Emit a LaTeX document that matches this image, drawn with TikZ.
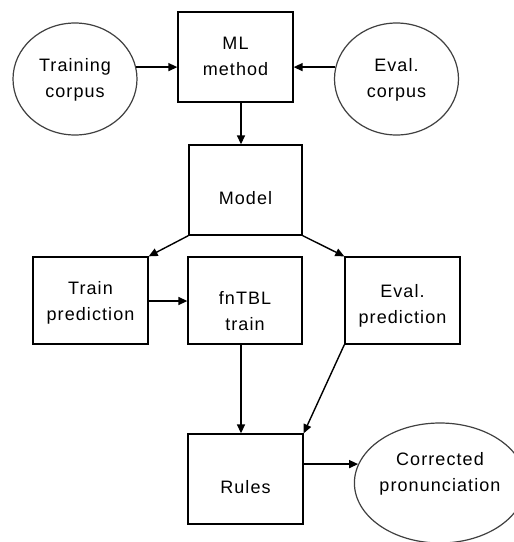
\documentclass[tikz,border=0pt]{standalone}
\usepackage{fontspec}
\setmainfont[LetterSpace=6]{Liberation Sans}
\usetikzlibrary{arrows.meta,shapes.geometric}

% caption moved down (negative) or up (positive) by #1, keeping its
% natural extent so that the node still centres the unshifted text
\newcommand\boxtext[2]{\raisebox{#1}[\height][\depth]{\begin{tabular}{@{}c@{}}#2\end{tabular}}}

\begin{document}
\begin{tikzpicture}[x=1pt,y=-1pt,
  every node/.style={font=\fontsize{18}{26}\selectfont, inner sep=0pt},
  procbox/.style={draw=black, line width=1.3pt, rectangle,
                  minimum width=115pt, minimum height=88pt},
  dataoval/.style={draw=black!75, line width=1.2pt, ellipse},
  flow/.style={draw=black, line width=1.4pt,
               -{Triangle[length=9pt,width=8pt]}}
]
\fill[white] (0,0) rectangle (514,542);
\useasboundingbox (0,0) rectangle (514,542);

% data sources and result
\node[dataoval, minimum width=124pt, minimum height=112pt] (tc) at (75,79)
  {\boxtext{0pt}{Training\\corpus}};
\node[dataoval, minimum width=124pt, minimum height=112pt] (ec) at (396.5,79)
  {\boxtext{0pt}{Eval.\\corpus}};
\node[dataoval, minimum width=150pt, minimum height=120pt] (cp) at (440,483)
  {\boxtext{10pt}{Corrected\\pronunciation}};

% processing steps
\node[procbox, minimum height=90pt] (ml) at (235.5,57)
  {\boxtext{0pt}{ML\\method}};
\node[procbox, minimum width=113pt, minimum height=90pt] (model) at (245.5,190)
  {\boxtext{-9pt}{Model}};
\node[procbox, minimum height=87pt] (tp) at (90.5,300.5)
  {\boxtext{-2pt}{Train\\prediction}};
\node[procbox, minimum width=114pt, minimum height=87pt] (fn) at (245,300.5)
  {\boxtext{-12pt}{fnTBL\\train}};
\node[procbox, minimum height=87pt] (ep) at (402.5,300.5)
  {\boxtext{-5pt}{Eval.\\prediction}};
\node[procbox, minimum height=90pt] (rules) at (245.5,479)
  {\boxtext{-9pt}{Rules}};

% connectors
\draw[flow] (tc.11) -- (tc.11 -| ml.west);
\draw[flow] (ec.169) -- (ec.169 -| ml.east);
\draw[flow] ([xshift=-4.5pt]model.north |- ml.south) -- ([xshift=-4.5pt]model.north);
\draw[flow] (model.south west) -- (tp.north east);
\draw[flow] (model.south east) -- (ep.north west);
\draw[flow] ([yshift=-0.5pt]tp.east) -- ([yshift=-0.5pt]fn.west);
\draw[flow] ([xshift=-4pt]fn.south) -- ([xshift=-4pt]fn.south |- rules.north);
\draw[flow] (ep.south west) -- (rules.north east);
\draw[flow] (cp.167.5 -| rules.east) -- (cp.167.5);
\end{tikzpicture}
\end{document}
